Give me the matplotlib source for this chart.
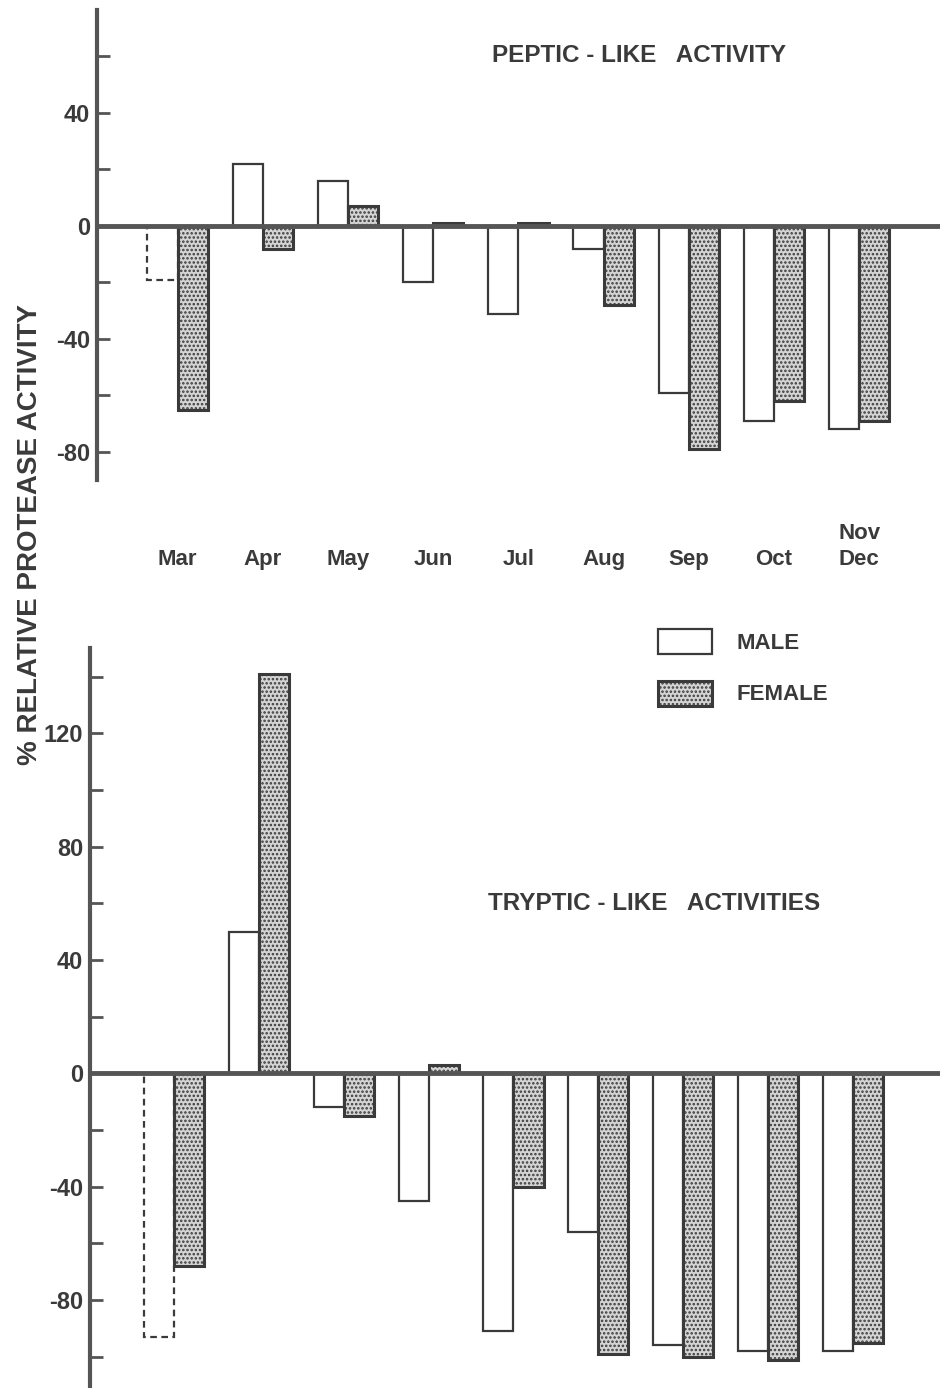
import matplotlib
matplotlib.use('Agg')
import matplotlib.pyplot as plt
import numpy as np
from matplotlib.patches import Patch
from matplotlib.ticker import MultipleLocator

plt.rcParams['font.family'] = ['Liberation Sans', 'DejaVu Sans']
plt.rcParams['axes.unicode_minus'] = False
plt.rcParams['hatch.linewidth'] = 1.2

# data (% relative protease activity)
months = ['Mar', 'Apr', 'May', 'Jun', 'Jul', 'Aug', 'Sep', 'Oct', 'Nov\nDec']
peptic_male = [-19, 22, 16, -20, -31, -8, -59, -69, -72]
peptic_female = [-65, -8, 7, 1, 1, -28, -79, -62, -69]
tryptic_male = [-93, 50, -12, -45, -91, -56, -96, -98, -98]
tryptic_female = [-68, 141, -15, 3, -40, -99, -100, -101, -95]
dashed_months = ['Mar']

INK = '#3a3a3a'
FEMALE_FILL = '#d4d4d4'
W = 0.355


def draw_panel(ax, male, female, ylim, ticks, xlim):
    x = np.arange(len(months))
    mb = ax.bar(x - W / 2, male, W, facecolor='white', edgecolor=INK,
                linewidth=1.6, zorder=2)
    for patch, m in zip(mb.patches, months):
        if m in dashed_months:
            patch.set_linestyle((0, (3, 2)))
    ax.bar(x + W / 2, female, W, facecolor=FEMALE_FILL, edgecolor=INK,
           hatch='....', linewidth=2.2, zorder=2)

    ax.set_xlim(*xlim)
    ax.set_ylim(*ylim)
    for s in ['top', 'right']:
        ax.spines[s].set_visible(False)
    ax.spines['left'].set_linewidth(3)
    ax.spines['left'].set_color('#555555')
    ax.spines['bottom'].set_position(('data', 0))
    ax.spines['bottom'].set_linewidth(3.5)
    ax.spines['bottom'].set_color('#555555')
    ax.spines['bottom'].set_zorder(3)
    ax.set_xticks([])
    ax.set_yticks(ticks)
    ax.yaxis.set_minor_locator(MultipleLocator(20))
    ax.tick_params(axis='y', which='both', direction='in', length=9,
                   width=2, color='#555555')
    ax.tick_params(axis='y', which='major', labelsize=17, pad=5,
                   labelcolor=INK)
    for lab in ax.get_yticklabels():
        lab.set_fontweight('bold')
    ax.patch.set_visible(False)


fig = plt.figure(figsize=(9.4, 13.88), dpi=100)

ax_top = fig.add_axes([0.103, 0.654, 0.897, 0.339])
draw_panel(ax_top, peptic_male, peptic_female, (-90, 76.5),
           [-80, -40, 0, 40], (-0.95, 8.95))

ax_bot = fig.add_axes([0.096, 0.0, 0.904, 0.533])
draw_panel(ax_bot, tryptic_male, tryptic_female, (-111, 150),
           [-80, -40, 0, 40, 80, 120], (-0.99, 9.03))

# month labels between the two panels
trans = matplotlib.transforms.blended_transform_factory(ax_top.transData, fig.transFigure)
for i, m in enumerate(months):
    ax_top.text(i, 0.589, m, transform=trans, ha='center', va='bottom',
                fontsize=16, fontweight='bold', color=INK, linespacing=1.35,
                clip_on=False)

fig.text(0.523, 0.960, 'PEPTIC - LIKE   ACTIVITY', fontsize=17.5,
         fontweight='bold', color=INK, va='center')
fig.text(0.519, 0.349, 'TRYPTIC - LIKE   ACTIVITIES', fontsize=17.5,
         fontweight='bold', color=INK, va='center')

fig.text(0.032, 0.615, '% RELATIVE PROTEASE ACTIVITY', rotation=90,
         fontsize=20, fontweight='bold', color=INK, ha='center', va='center')

handles = [Patch(facecolor='white', edgecolor=INK, linewidth=1.6, label='MALE'),
           Patch(facecolor=FEMALE_FILL, edgecolor=INK, hatch='....',
                 linewidth=2.2, label='FEMALE')]
leg = fig.legend(handles=handles, loc='upper left', bbox_to_anchor=(0.688, 0.555),
                 frameon=False, borderpad=0, handlelength=2.45, handleheight=1.36,
                 labelspacing=1.2, handletextpad=1.1, fontsize=16)
for t in leg.get_texts():
    t.set_color(INK)
    t.set_fontweight('bold')

fig.savefig('out.png', dpi=100)
